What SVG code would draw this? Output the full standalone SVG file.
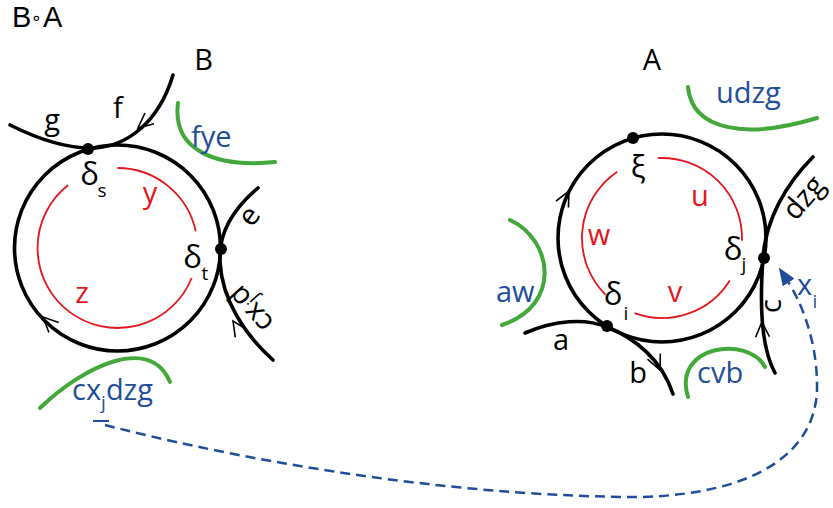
<svg xmlns="http://www.w3.org/2000/svg" width="833" height="508" viewBox="0 0 833 508">
<style>
text{font-family:"Open Sans","Liberation Sans",sans-serif;font-size:29px;fill:#000}
.t{font-size:29px}
.ttl{font-family:"Liberation Sans",sans-serif;font-size:29px}
.m{text-anchor:middle}
.r{fill:#e2161d}
.bl{fill:#1f4e99}
.sub{font-size:19px}
.dl{font-size:31px}
.k{fill:none;stroke:#000;stroke-width:3.6;stroke-linecap:round}
.red{fill:none;stroke:#e2161d;stroke-width:1.8}
.gr{fill:none;stroke:#43a83a;stroke-width:4;stroke-linecap:round}
.ch{fill:none;stroke:#000;stroke-width:1.6}
.dot{fill:#000}
</style>
<defs>
<path id="chev" d="M-15,-7 L0,0 L-15,7"/>
<marker id="ah" markerUnits="userSpaceOnUse" viewBox="0 0 18 14" refX="3" refY="7" markerWidth="18" markerHeight="14" orient="auto">
<path d="M0,0 L18,7 L0,14 z" fill="#1f4e99"/>
</marker>
</defs>
<rect width="833" height="508" fill="#fff"/>
<text class="ttl" y="27"><tspan x="12">B</tspan><tspan x="36.5" class="m" font-family="DejaVu Sans" font-size="18" dy="-3">∘</tspan><tspan x="43" dy="3">A</tspan></text>

<g id="nodeB">
<text class="t m" x="203.5" y="70">B</text>
<circle class="k" cx="117.5" cy="248" r="103"/>
<path class="k" d="M10,125 C40,140 70,149 95,148 C125,146 158,125 173,75"/>
<path class="k" d="M258,188 C232,210 218,235 220,262 C222,300 245,335 273,360"/>
<use href="#chev" class="ch" transform="translate(138,128) rotate(140)"/>
<use href="#chev" class="ch" transform="translate(43,317) rotate(-136)"/>
<use href="#chev" class="ch" transform="translate(233,321) rotate(-123)"/>
<circle class="dot" cx="88" cy="149" r="6"/>
<circle class="dot" cx="221" cy="249" r="6"/>
<path class="red" d="M117.5,168 A80,80 0 0 1 195.8,231.4"/>
<path class="red" d="M191.7,278 A80,80 0 1 1 68.2,185"/>
<path class="gr" d="M178,103 C172,150 215,168 275,162"/>
<path class="gr" d="M40,408 C85,365 150,335 170,382"/>
<text class="m" x="52" y="130">g</text>
<text class="m" x="118" y="118">f</text>
<text class="bl" x="191" y="147">fye</text>
<text class="dl m" x="89.5" y="185">δ</text>
<text class="sub m" x="102" y="197">s</text>
<text class="r m" x="150" y="203">y</text>
<text class="dl m" x="192.5" y="268">δ</text>
<text class="sub m" x="205" y="280">t</text>
<text class="r m" x="82" y="303">z</text>
<text class="m" transform="translate(257,221.5) rotate(-55)">e</text>
<text class="m" transform="translate(257.8,302.8) rotate(228)">cx<tspan class="sub" dy="5">j</tspan><tspan dy="-5">d</tspan></text>
<text class="bl" x="72" y="400">cx<tspan class="sub" dy="9">j</tspan><tspan dy="-9">dzg</tspan></text>
</g>

<g id="nodeA">
<text class="t m" x="652" y="70">A</text>
<circle class="k" cx="662" cy="238" r="104"/>
<path class="k" d="M525,333 C555,320 585,318 607,327 C635,338 662,360 673,394"/>
<path class="k" d="M813,157 C785,185 766,220 763,257 C760,300 760,345 775,373"/>
<use href="#chev" class="ch" transform="translate(569,191) rotate(-63)"/>
<use href="#chev" class="ch" transform="translate(660,370) rotate(66)"/>
<use href="#chev" class="ch" transform="translate(762,322) rotate(-92)"/>
<circle class="dot" cx="633" cy="138" r="6"/>
<circle class="dot" cx="764" cy="258" r="6"/>
<circle class="dot" cx="607" cy="326" r="6"/>
<path class="red" d="M657.8,158.1 A80,80 0 0 1 741.95,240.8"/>
<path class="red" d="M617.3,171.7 A80,80 0 0 0 605.4,294.6"/>
<path class="red" d="M634.6,313.2 A80,80 0 0 0 729.8,280.4"/>
<path class="gr" d="M688,87 C692,130 745,140 817,118"/>
<path class="gr" d="M510,220 C553,240 562,305 502,325"/>
<path class="gr" d="M688,397 C672,345 748,335 765,367"/>
<text class="bl" x="716" y="103">udzg</text>
<text class="bl" x="496" y="302">aw</text>
<text class="bl" x="697" y="383">cvb</text>
<text class="dl m" x="638" y="178">ξ</text>
<text class="r m" x="700" y="206">u</text>
<text class="r m" x="599" y="245">w</text>
<text class="r m" x="675" y="302">v</text>
<text class="dl m" x="613" y="305">δ</text>
<text class="sub m" x="626" y="320">i</text>
<text class="dl m" x="733" y="260">δ</text>
<text class="sub m" x="744" y="271">j</text>
<text class="m" x="561" y="350">a</text>
<text class="m" x="638" y="383">b</text>
<text class="m" transform="translate(781,306) rotate(-90)">c</text>
<text class="m" transform="translate(811,204) rotate(-49)" font-size="27">dzg</text>
<text class="bl m" x="804.5" y="295">x</text>
<text class="bl sub m" x="815" y="308">i</text>
</g>

<g id="connectors">
<line x1="93" y1="421" x2="109" y2="421" stroke="#1f4e99" stroke-width="2"/>
<path d="M105,425 C280,470 480,497 640,497 C760,494 815,450 817,390 C818,340 800,300 787,280" fill="none" stroke="#1f4e99" stroke-width="2.5" stroke-dasharray="10,6" marker-end="url(#ah)"/>
</g>
</svg>
